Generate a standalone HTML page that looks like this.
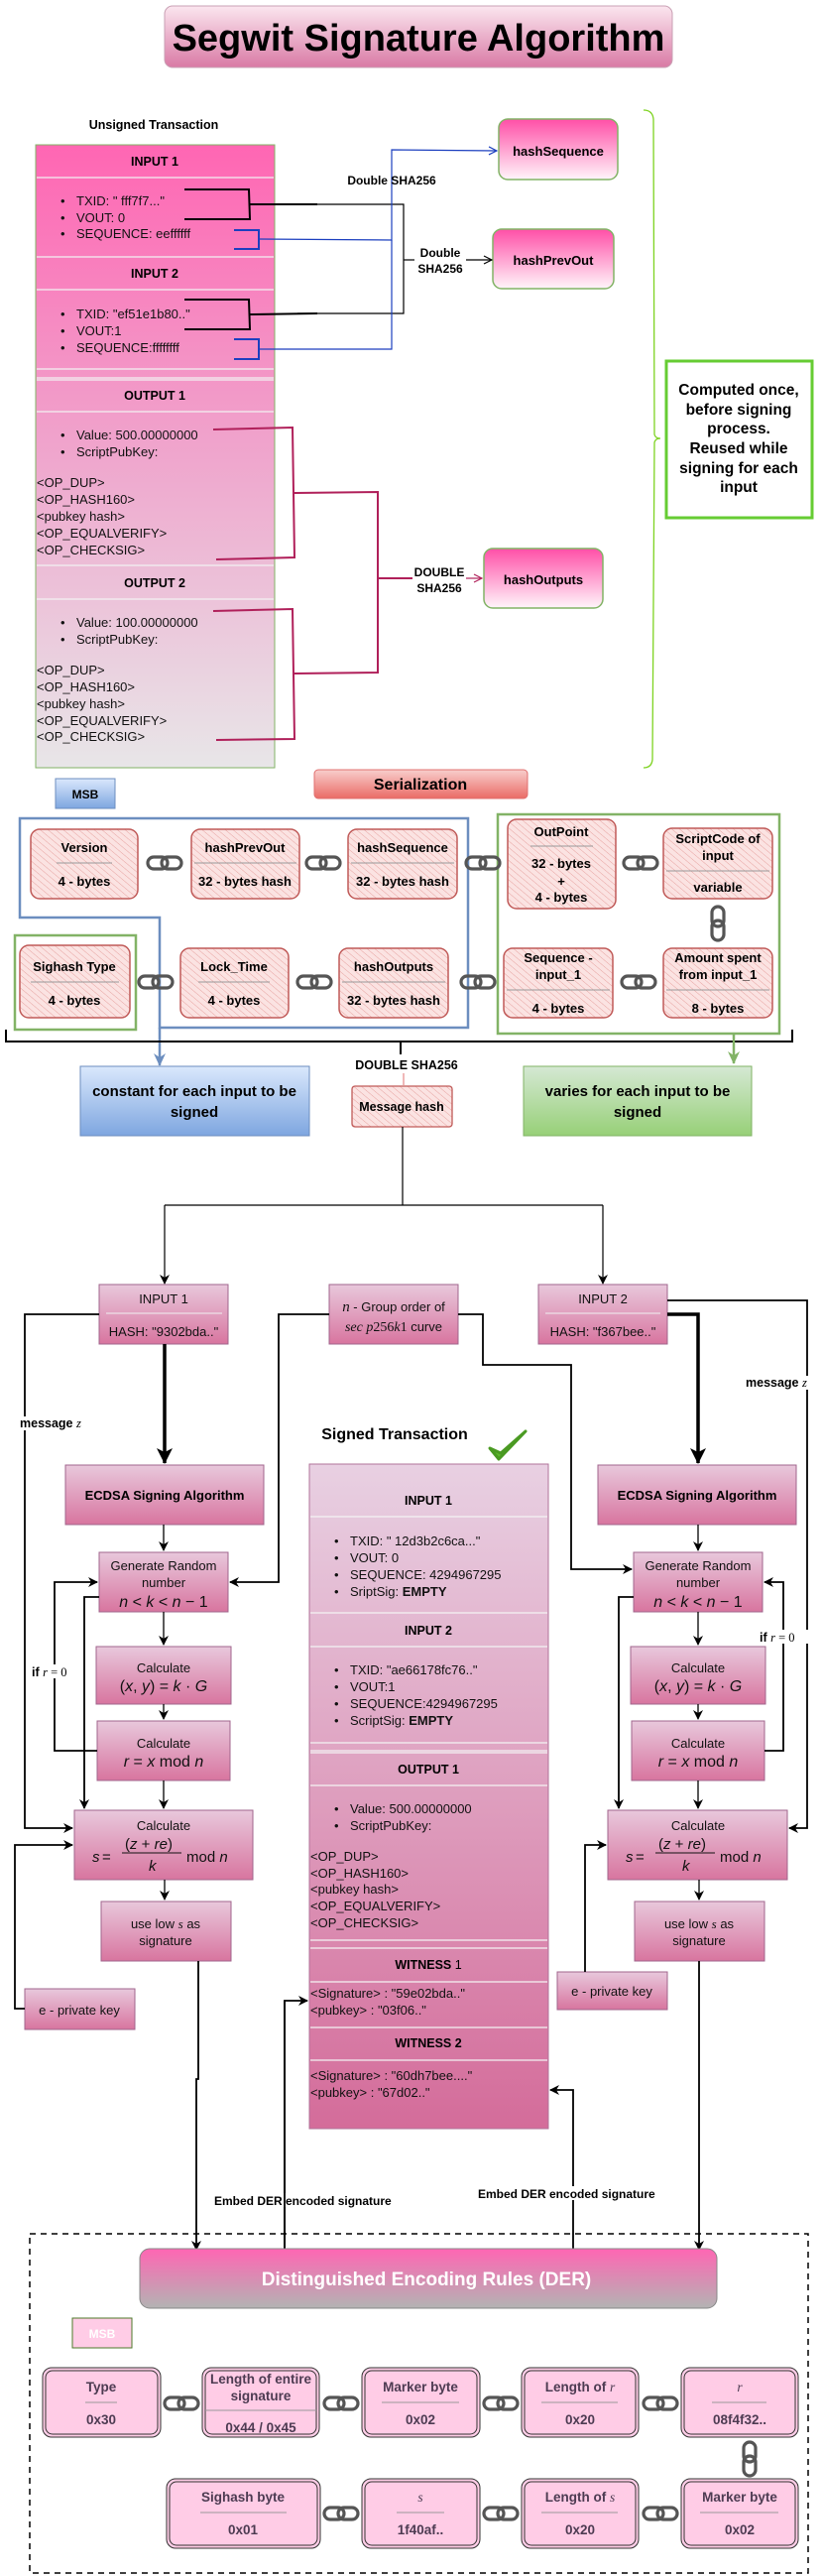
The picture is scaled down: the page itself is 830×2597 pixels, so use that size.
<!DOCTYPE html>
<html><head><meta charset="utf-8"><style>
html,body{margin:0;padding:0;background:#fff}
svg{display:block}
text{font-family:"Liberation Sans",Arial,sans-serif}
.b{font-weight:bold}
.m{font-family:"Liberation Serif",serif;font-style:italic}
</style></head><body>
<svg width="830" height="2597" viewBox="0 0 830 2597" xmlns="http://www.w3.org/2000/svg">
<defs>
<linearGradient id="gTitle" x1="0" y1="0" x2="0" y2="1"><stop offset="0" stop-color="#fbe6ef"/><stop offset="1" stop-color="#d97aa5"/></linearGradient>
<linearGradient id="gTx" x1="0" y1="0" x2="0" y2="1"><stop offset="0" stop-color="#ff66b3"/><stop offset="0.5" stop-color="#efa6cd"/><stop offset="1" stop-color="#e8e6e8"/></linearGradient>
<linearGradient id="gHash" x1="0" y1="0" x2="0" y2="1"><stop offset="0" stop-color="#ff4fa7"/><stop offset="1" stop-color="#fff5fa"/></linearGradient>
<linearGradient id="gSer" x1="0" y1="0" x2="0" y2="1"><stop offset="0" stop-color="#f8cecc"/><stop offset="1" stop-color="#ea6b66"/></linearGradient>
<linearGradient id="gMSB" x1="0" y1="0" x2="0" y2="1"><stop offset="0" stop-color="#dae8fc"/><stop offset="1" stop-color="#7ea6e0"/></linearGradient>
<linearGradient id="gBlue" x1="0" y1="0" x2="0" y2="1"><stop offset="0" stop-color="#dae8fc"/><stop offset="1" stop-color="#7ea6e0"/></linearGradient>
<linearGradient id="gGreen" x1="0" y1="0" x2="0" y2="1"><stop offset="0" stop-color="#d5e8d4"/><stop offset="1" stop-color="#97d077"/></linearGradient>
<linearGradient id="gPk" x1="0" y1="0" x2="0" y2="1"><stop offset="0" stop-color="#e8c8dc"/><stop offset="1" stop-color="#d8759f"/></linearGradient>
<linearGradient id="gSig" x1="0" y1="0" x2="0" y2="1"><stop offset="0" stop-color="#e8d0e2"/><stop offset="1" stop-color="#d46c9a"/></linearGradient>
<linearGradient id="gDer" x1="0" y1="0" x2="0" y2="1"><stop offset="0" stop-color="#ff66b3"/><stop offset="1" stop-color="#b3b3b3"/></linearGradient>
<pattern id="hatch" width="5" height="5" patternUnits="userSpaceOnUse" patternTransform="rotate(-50)"><rect width="5" height="5" fill="#fbe3e2"/><line x1="0" y1="0" x2="0" y2="5" stroke="#e7a3a1" stroke-width="1"/></pattern>
<marker id="ab" markerWidth="10" markerHeight="10" refX="9" refY="5" orient="auto" markerUnits="userSpaceOnUse"><path d="M0,0 L10,5 L0,10 L3,5 Z" fill="#000"/></marker>
<marker id="abig" markerWidth="16" markerHeight="16" refX="15" refY="8" orient="auto" markerUnits="userSpaceOnUse"><path d="M0,0 L16,8 L0,16 L4,8 Z" fill="#000"/></marker>
<marker id="aopen" markerWidth="10" markerHeight="10" refX="9" refY="5" orient="auto" markerUnits="userSpaceOnUse"><path d="M1,1 L9,5 L1,9" fill="none" stroke="#000" stroke-width="1.2"/></marker>
<marker id="aopenB" markerWidth="10" markerHeight="10" refX="9" refY="5" orient="auto" markerUnits="userSpaceOnUse"><path d="M1,1 L9,5 L1,9" fill="none" stroke="#1c3fbf" stroke-width="1.2"/></marker>
<marker id="aopenR" markerWidth="10" markerHeight="10" refX="9" refY="5" orient="auto" markerUnits="userSpaceOnUse"><path d="M1,1 L9,5 L1,9" fill="none" stroke="#b0205a" stroke-width="1.2"/></marker>
<marker id="ablue" markerWidth="14" markerHeight="14" refX="12" refY="7" orient="auto" markerUnits="userSpaceOnUse"><path d="M0,1 L13,7 L0,13 L4,7 Z" fill="#6c8ebf"/></marker>
<marker id="agreen" markerWidth="14" markerHeight="14" refX="12" refY="7" orient="auto" markerUnits="userSpaceOnUse"><path d="M0,1 L13,7 L0,13 L4,7 Z" fill="#82b366"/></marker>
<g id="chainH"><rect x="-17" y="-6" width="20" height="12" rx="6" fill="none" stroke="#555" stroke-width="3.2"/><rect x="-3" y="-6" width="20" height="12" rx="6" fill="none" stroke="#555" stroke-width="3.2"/></g>
<g id="chainV"><rect x="-6" y="-17" width="12" height="20" rx="6" fill="none" stroke="#555" stroke-width="3.2"/><rect x="-6" y="-3" width="12" height="20" rx="6" fill="none" stroke="#555" stroke-width="3.2"/></g>
</defs>

<!-- Title -->
<rect x="166" y="6" width="512" height="62" rx="8" fill="url(#gTitle)" stroke="#c9a0b4"/>
<text x="422" y="51" text-anchor="middle" class="b" font-size="38" fill="#000">Segwit Signature Algorithm</text>

<text x="155" y="130" text-anchor="middle" class="b" font-size="12.5">Unsigned Transaction</text>

<!-- Unsigned tx table -->
<rect x="36" y="146" width="241" height="628" fill="url(#gTx)" stroke="#82b366"/>
<g stroke="#f2f2f2" stroke-width="1.2">
<line x1="37" y1="179" x2="276" y2="179"/><line x1="37" y1="259" x2="276" y2="259"/>
<line x1="37" y1="292" x2="276" y2="292"/><line x1="37" y1="372" x2="276" y2="372"/>
<line x1="37" y1="381" x2="276" y2="381"/><line x1="37" y1="383" x2="276" y2="383"/>
<line x1="37" y1="415" x2="276" y2="415"/><line x1="37" y1="570" x2="276" y2="570"/><line x1="37" y1="604" x2="276" y2="604"/>
</g>
<g font-size="12.5" class="b" text-anchor="middle">
<text x="156" y="167">INPUT 1</text><text x="156" y="280">INPUT 2</text>
<text x="156" y="403">OUTPUT 1</text><text x="156" y="592">OUTPUT 2</text>
</g>
<g font-size="13" fill="#111">
<text x="61" y="207">•</text><text x="77" y="207">TXID: " fff7f7..."</text>
<text x="61" y="224">•</text><text x="77" y="224">VOUT: 0</text>
<text x="61" y="240">•</text><text x="77" y="240">SEQUENCE: eeffffff</text>
<text x="61" y="321">•</text><text x="77" y="321">TXID: "ef51e1b80.."</text>
<text x="61" y="338">•</text><text x="77" y="338">VOUT:1</text>
<text x="61" y="355">•</text><text x="77" y="355">SEQUENCE:ffffffff</text>
<text x="61" y="443">•</text><text x="77" y="443">Value: 500.00000000</text>
<text x="61" y="460">•</text><text x="77" y="460">ScriptPubKey:</text>
<text x="37" y="491">&lt;OP_DUP&gt;</text><text x="37" y="508">&lt;OP_HASH160&gt;</text><text x="37" y="525">&lt;pubkey hash&gt;</text><text x="37" y="542">&lt;OP_EQUALVERIFY&gt;</text><text x="37" y="559">&lt;OP_CHECKSIG&gt;</text>
<text x="61" y="632">•</text><text x="77" y="632">Value: 100.00000000</text>
<text x="61" y="649">•</text><text x="77" y="649">ScriptPubKey:</text>
<text x="37" y="680">&lt;OP_DUP&gt;</text><text x="37" y="697">&lt;OP_HASH160&gt;</text><text x="37" y="714">&lt;pubkey hash&gt;</text><text x="37" y="731">&lt;OP_EQUALVERIFY&gt;</text><text x="37" y="747">&lt;OP_CHECKSIG&gt;</text>
</g>

<!-- hash boxes -->
<rect x="503" y="120" width="120" height="61" rx="9" fill="url(#gHash)" stroke="#82b366" stroke-width="1.5"/>
<text x="563" y="157" text-anchor="middle" class="b" font-size="13">hashSequence</text>
<rect x="497" y="231" width="122" height="60" rx="9" fill="url(#gHash)" stroke="#82b366" stroke-width="1.5"/>
<text x="558" y="267" text-anchor="middle" class="b" font-size="13">hashPrevOut</text>
<rect x="488" y="553" width="120" height="60" rx="9" fill="url(#gHash)" stroke="#82b366" stroke-width="1.5"/>
<text x="548" y="589" text-anchor="middle" class="b" font-size="13">hashOutputs</text>

<!-- black brackets -->
<g fill="none" stroke="#000" stroke-width="2">
<path d="M186,191 L251,191 L252,221 L186,221"/><path d="M252,206 L320,206"/>
<path d="M186,302 L251,302 L252,332 L186,332"/><path d="M252,317 L320,316"/>
</g>
<g fill="none" stroke="#000" stroke-width="1.2">
<path d="M300,206 L407,206 L407,316 L300,316"/>
<path d="M407,262 L418,262"/>
<path d="M470,262 L496,262" marker-end="url(#aopen)"/>
</g>
<!-- blue brackets -->
<g fill="none" stroke="#1c3fbf" stroke-width="2">
<path d="M236,232 L261,232 L261,251 L236,251"/><path d="M236,342 L261,342 L261,362 L236,362"/>
</g>
<g fill="none" stroke="#1c3fbf" stroke-width="1.2">
<path d="M261,241 L395,242 L395,151 L501,152" marker-end="url(#aopenB)"/>
<path d="M261,352 L395,352 L395,242"/>
</g>
<!-- red brackets -->
<g fill="none" stroke="#b0205a" stroke-width="2">
<path d="M215,433 L295,431 L297,562 L218,564"/>
<path d="M215,616 L295,614 L297,745 L218,746"/>
<path d="M297,497 L381,496 L381,678 L297,679"/>
<path d="M381,583 L416,583"/>
<path d="M470,583 L486,583" stroke-width="1.2" marker-end="url(#aopenR)"/>
</g>
<g class="b" font-size="12" text-anchor="middle">
<text x="395" y="186">Double SHA256</text>
<text x="444" y="259">Double</text><text x="444" y="275">SHA256</text>
<text x="443" y="581">DOUBLE</text><text x="443" y="597">SHA256</text>
</g>

<!-- green brace -->
<path d="M649,111 Q658,111 659,120 L660,438 Q661,442 666,442 Q661,442 660,446 L658,766 Q657,774 649,774" fill="none" stroke="#7ed321" stroke-width="1.3"/>
<rect x="672" y="364" width="147" height="158" fill="#fff" stroke="#66cc33" stroke-width="3"/>
<g class="b" font-size="15.5" text-anchor="middle">
<text x="745" y="398">Computed once,</text><text x="745" y="418">before signing</text><text x="745" y="437">process.</text>
<text x="745" y="457">Reused while</text><text x="745" y="477">signing for each</text><text x="745" y="496">input</text>
</g>

<!-- Serialization -->
<rect x="317" y="776" width="215" height="29" rx="4" fill="url(#gSer)" stroke="#e07070"/>
<text x="424" y="796" text-anchor="middle" class="b" font-size="16">Serialization</text>
<rect x="56" y="785" width="60" height="30" fill="url(#gMSB)" stroke="#6c8ebf"/>
<text x="86" y="805" text-anchor="middle" class="b" font-size="12">MSB</text>

<path d="M20,825 L472,825 L472,1036 L161,1036 L161,925 L20,925 Z" fill="none" stroke="#6c8ebf" stroke-width="2.5"/>
<path d="M161,1036 L161,1074" fill="none" stroke="#6c8ebf" stroke-width="2.5" marker-end="url(#ablue)"/>
<rect x="502" y="821" width="284" height="221" fill="none" stroke="#82b366" stroke-width="2.5"/>
<rect x="15" y="943" width="122" height="95" fill="none" stroke="#82b366" stroke-width="2.5"/>

<!-- sketch boxes -->
<g stroke="#c05a58" stroke-width="1.5">
<rect x="31" y="836" width="108" height="70" rx="9" fill="url(#hatch)"/>
<rect x="193" y="836" width="109" height="70" rx="9" fill="url(#hatch)"/>
<rect x="351" y="836" width="110" height="70" rx="9" fill="url(#hatch)"/>
<rect x="512" y="826" width="109" height="90" rx="9" fill="url(#hatch)"/>
<rect x="669" y="835" width="110" height="71" rx="9" fill="url(#hatch)"/>
<rect x="20" y="953" width="111" height="73" rx="9" fill="url(#hatch)"/>
<rect x="182" y="956" width="109" height="70" rx="9" fill="url(#hatch)"/>
<rect x="342" y="956" width="110" height="70" rx="9" fill="url(#hatch)"/>
<rect x="508" y="956" width="110" height="70" rx="9" fill="url(#hatch)"/>
<rect x="669" y="956" width="110" height="70" rx="9" fill="url(#hatch)"/>
</g>
<g stroke="#999" stroke-width="1">
<line x1="57" y1="870" x2="113" y2="870"/><line x1="196" y1="870" x2="299" y2="870"/><line x1="354" y1="870" x2="458" y2="870"/>
<line x1="535" y1="853" x2="598" y2="853"/><line x1="672" y1="878" x2="776" y2="878"/>
<line x1="31" y1="990" x2="120" y2="990"/><line x1="200" y1="990" x2="272" y2="990"/><line x1="345" y1="990" x2="449" y2="990"/>
<line x1="511" y1="998" x2="615" y2="998"/><line x1="672" y1="998" x2="776" y2="998"/>
</g>
<g class="b" font-size="13" text-anchor="middle">
<text x="85" y="859">Version</text><text x="85" y="893">4 - bytes</text>
<text x="247" y="859">hashPrevOut</text><text x="247" y="893">32 - bytes hash</text>
<text x="406" y="859">hashSequence</text><text x="406" y="893">32 - bytes hash</text>
<text x="566" y="843">OutPoint</text><text x="566" y="875">32 - bytes</text><text x="566" y="893">+</text><text x="566" y="909">4 - bytes</text>
<text x="724" y="850">ScriptCode of</text><text x="724" y="867">input</text><text x="724" y="899">variable</text>
<text x="75" y="979">Sighash Type</text><text x="75" y="1013">4 - bytes</text>
<text x="236" y="979">Lock_Time</text><text x="236" y="1013">4 - bytes</text>
<text x="397" y="979">hashOutputs</text><text x="397" y="1013">32 - bytes hash</text>
<text x="563" y="970">Sequence -</text><text x="563" y="987">input_1</text><text x="563" y="1021">4 - bytes</text>
<text x="724" y="970">Amount spent</text><text x="724" y="987">from input_1</text><text x="724" y="1021">8 - bytes</text>
</g>
<use href="#chainH" x="166" y="870"/><use href="#chainH" x="326" y="870"/><use href="#chainH" x="487" y="870"/><use href="#chainH" x="646" y="870"/>
<use href="#chainH" x="157" y="990"/><use href="#chainH" x="317" y="990"/><use href="#chainH" x="482" y="990"/><use href="#chainH" x="644" y="990"/>
<use href="#chainV" x="724" y="931"/>

<!-- big bracket -->
<path d="M6,1038 L6,1050 L799,1050 L799,1038 M404,1050 L404,1063" fill="none" stroke="#000" stroke-width="2"/>
<path d="M740,1042 L740,1072" fill="none" stroke="#82b366" stroke-width="2.5" marker-end="url(#agreen)"/>
<text x="410" y="1078" text-anchor="middle" class="b" font-size="12.5">DOUBLE SHA256</text>
<path d="M407,1082 L407,1094" stroke="#e07070" fill="none" stroke-width="1"/>
<rect x="81" y="1075" width="231" height="70" fill="url(#gBlue)" stroke="#6c8ebf"/>
<text x="196" y="1105" text-anchor="middle" class="b" font-size="15">constant for each input to be</text>
<text x="196" y="1126" text-anchor="middle" class="b" font-size="15">signed</text>
<rect x="528" y="1075" width="230" height="70" fill="url(#gGreen)" stroke="#82b366"/>
<text x="643" y="1105" text-anchor="middle" class="b" font-size="15">varies for each input to be</text>
<text x="643" y="1126" text-anchor="middle" class="b" font-size="15">signed</text>
<rect x="355" y="1095" width="101" height="41" rx="3" fill="url(#hatch)" stroke="#c05a58" stroke-width="1.3"/>
<text x="405" y="1120" text-anchor="middle" class="b" font-size="12.5">Message hash</text>

<!-- tree lines -->
<path d="M406,1136 L406,1215 M166,1215 L608,1215" fill="none" stroke="#000" stroke-width="1.2"/>
<path d="M166,1215 L166,1294" fill="none" stroke="#000" stroke-width="1.2" marker-end="url(#ab)"/>
<path d="M608,1215 L608,1294" fill="none" stroke="#000" stroke-width="1.2" marker-end="url(#ab)"/>

<!-- ECDSA boxes -->
<g stroke="#a0658c" stroke-width="1">
<rect x="100" y="1295" width="130" height="60" fill="url(#gPk)"/>
<rect x="332" y="1295" width="130" height="60" fill="url(#gPk)"/>
<rect x="543" y="1295" width="130" height="60" fill="url(#gPk)"/>
<rect x="66" y="1477" width="200" height="60" fill="url(#gPk)"/>
<rect x="603" y="1477" width="200" height="60" fill="url(#gPk)"/>
<rect x="100" y="1565" width="130" height="60" fill="url(#gPk)"/>
<rect x="639" y="1565" width="130" height="60" fill="url(#gPk)"/>
<rect x="97" y="1660" width="136" height="58" fill="url(#gPk)"/>
<rect x="636" y="1660" width="136" height="58" fill="url(#gPk)"/>
<rect x="98" y="1735" width="134" height="60" fill="url(#gPk)"/>
<rect x="637" y="1735" width="134" height="60" fill="url(#gPk)"/>
<rect x="75" y="1825" width="180" height="70" fill="url(#gPk)"/>
<rect x="613" y="1825" width="181" height="70" fill="url(#gPk)"/>
<rect x="102" y="1917" width="131" height="60" fill="url(#gPk)"/>
<rect x="640" y="1917" width="131" height="60" fill="url(#gPk)"/>
<rect x="25" y="2005" width="111" height="41" fill="url(#gPk)"/>
<rect x="562" y="1988" width="111" height="38" fill="url(#gPk)"/>
</g>
<g stroke="#f0f0f0"><line x1="107" y1="1324" x2="224" y2="1324"/><line x1="550" y1="1324" x2="666" y2="1324"/></g>
<g font-size="13" text-anchor="middle" fill="#111">
<text x="165" y="1314">INPUT 1</text><text x="165" y="1347">HASH: "9302bda.."</text>
<text x="608" y="1314">INPUT 2</text><text x="608" y="1347">HASH: "f367bee.."</text>
<text x="397" y="1322"><tspan class="m" font-size="15">n</tspan> - Group order of</text>
<text x="397" y="1342"><tspan class="m" font-size="14">sec p</tspan><tspan font-family="Liberation Serif" font-size="14">256</tspan><tspan class="m" font-size="14">k</tspan><tspan font-family="Liberation Serif" font-size="14">1</tspan> curve</text>
<text x="165" y="1583">Generate Random</text><text x="165" y="1600">number</text>
<text x="704" y="1583">Generate Random</text><text x="704" y="1600">number</text>
<text x="165" y="1686">Calculate</text><text x="704" y="1686">Calculate</text>
<text x="165" y="1762">Calculate</text><text x="704" y="1762">Calculate</text>
<text x="165" y="1845">Calculate</text><text x="704" y="1845">Calculate</text>
<text x="167" y="1944">use low <tspan class="m">s</tspan> as</text><text x="167" y="1961">signature</text>
<text x="705" y="1944">use low <tspan class="m">s</tspan> as</text><text x="705" y="1961">signature</text>
<text x="80" y="2031">e - private key</text><text x="617" y="2012">e - private key</text>
</g>
<g font-family="Liberation Serif" font-size="16" text-anchor="middle" fill="#111">
<text x="165" y="1620"><tspan font-style="italic">n</tspan> &lt; <tspan font-style="italic">k</tspan> &lt; <tspan font-style="italic">n</tspan> − 1</text>
<text x="704" y="1620"><tspan font-style="italic">n</tspan> &lt; <tspan font-style="italic">k</tspan> &lt; <tspan font-style="italic">n</tspan> − 1</text>
<text x="165" y="1705">(<tspan font-style="italic">x</tspan>, <tspan font-style="italic">y</tspan>) = <tspan font-style="italic">k</tspan> · <tspan font-style="italic">G</tspan></text>
<text x="704" y="1705">(<tspan font-style="italic">x</tspan>, <tspan font-style="italic">y</tspan>) = <tspan font-style="italic">k</tspan> · <tspan font-style="italic">G</tspan></text>
<text x="165" y="1781"><tspan font-style="italic">r</tspan> = <tspan font-style="italic">x</tspan> mod <tspan font-style="italic">n</tspan></text>
<text x="704" y="1781"><tspan font-style="italic">r</tspan> = <tspan font-style="italic">x</tspan> mod <tspan font-style="italic">n</tspan></text>
</g>
<g font-family="Liberation Serif" font-size="15" fill="#111">
<text x="93" y="1877" font-style="italic">s</text><text x="103" y="1877">=</text>
<text x="126" y="1864">(<tspan font-style="italic">z</tspan> + <tspan font-style="italic">re</tspan>)</text>
<line x1="123" y1="1868" x2="183" y2="1868" stroke="#111" stroke-width="1"/>
<text x="150" y="1886" font-style="italic">k</text>
<text x="188" y="1877">mod <tspan font-style="italic">n</tspan></text>
<text x="631" y="1877" font-style="italic">s</text><text x="641" y="1877">=</text>
<text x="664" y="1864">(<tspan font-style="italic">z</tspan> + <tspan font-style="italic">re</tspan>)</text>
<line x1="661" y1="1868" x2="721" y2="1868" stroke="#111" stroke-width="1"/>
<text x="688" y="1886" font-style="italic">k</text>
<text x="726" y="1877">mod <tspan font-style="italic">n</tspan></text>
</g>
<g class="b" font-size="13" text-anchor="middle">
<text x="166" y="1512">ECDSA Signing Algorithm</text>
<text x="703" y="1512">ECDSA Signing Algorithm</text>
</g>

<!-- flow connectors -->
<g fill="none" stroke="#000" stroke-width="1.3">
<path d="M165,1537 L165,1563" marker-end="url(#ab)"/><path d="M704,1537 L704,1563" marker-end="url(#ab)"/>
<path d="M165,1625 L165,1658" marker-end="url(#ab)"/><path d="M704,1625 L704,1658" marker-end="url(#ab)"/>
<path d="M165,1718 L165,1733" marker-end="url(#ab)"/><path d="M704,1718 L704,1733" marker-end="url(#ab)"/>
<path d="M165,1795 L165,1823" marker-end="url(#ab)"/><path d="M704,1795 L704,1823" marker-end="url(#ab)"/>
<path d="M166,1895 L166,1915" marker-end="url(#ab)"/><path d="M705,1895 L705,1915" marker-end="url(#ab)"/>
<path d="M98,1765 L55,1765 L55,1595 L98,1595" stroke-width="1.8" marker-end="url(#ab)"/>
<path d="M100,1610 L85,1610 L85,1823" stroke-width="1.8" marker-end="url(#ab)"/>
<path d="M100,1325 L25,1325 L25,1843 L73,1843" stroke-width="1.8" marker-end="url(#ab)"/>
<path d="M25,2025 L15,2025 L15,1860 L73,1860" stroke-width="1.8" marker-end="url(#ab)"/>
<path d="M332,1325 L281,1325 L281,1595 L232,1595" stroke-width="1.8" marker-end="url(#ab)"/>
<path d="M462,1325 L487,1325 L487,1376 L576,1376 L576,1582 L637,1582" stroke-width="1.8" marker-end="url(#ab)"/>
<path d="M673,1311 L814,1311 L814,1843 L796,1843" stroke-width="1.8" marker-end="url(#ab)"/>
<path d="M771,1765 L790,1765 L790,1595 L771,1595" stroke-width="1.8" marker-end="url(#ab)"/>
<path d="M639,1610 L624,1610 L624,1823" stroke-width="1.8" marker-end="url(#ab)"/>
<path d="M590,1988 L590,1860 L611,1860" stroke-width="1.8" marker-end="url(#ab)"/>
<path d="M200,1977 L200,2096 L198,2096 L198,2268" stroke-width="1.8" marker-end="url(#ab)"/>
<path d="M705,1977 L705,2268" stroke-width="1.8" marker-end="url(#ab)"/>
<path d="M287,2267 L287,2017 L310,2017" stroke-width="1.8" marker-end="url(#ab)"/>
<path d="M578,2267 L578,2107 L555,2107" stroke-width="1.8" marker-end="url(#ab)"/>
<path d="M166,1355 L166,1475" stroke-width="3.5" marker-end="url(#abig)"/>
<path d="M673,1325 L704,1325 L704,1475" stroke-width="3.5" marker-end="url(#abig)"/>
</g>
<g font-size="12.5" fill="#000">
<rect x="18" y="1428" width="76" height="14" fill="#fff"/>
<text x="20" y="1439" class="b">message <tspan class="m" font-weight="normal">z</tspan></text>
<rect x="750" y="1387" width="78" height="14" fill="#fff"/>
<text x="752" y="1398" class="b">message <tspan class="m" font-weight="normal">z</tspan></text>
<rect x="30" y="1678" width="50" height="14" fill="#fff"/>
<text x="32" y="1690" class="b">if <tspan font-family="Liberation Serif" font-weight="normal"><tspan font-style="italic">r</tspan> = 0</tspan></text>
<rect x="764" y="1643" width="52" height="14" fill="#fff"/>
<text x="766" y="1655" class="b">if <tspan font-family="Liberation Serif" font-weight="normal"><tspan font-style="italic">r</tspan> = 0</tspan></text>
</g>

<!-- Signed transaction -->
<text x="398" y="1451" text-anchor="middle" class="b" font-size="16">Signed Transaction</text>
<path d="M494,1460 L503,1471 L530,1443 L505,1465 Z" fill="#5cb82a" stroke="#4a9a22" stroke-width="3" stroke-linejoin="round"/>
<rect x="312" y="1476" width="241" height="670" fill="url(#gSig)" stroke="#b0739a"/>
<g stroke="#f4f4f4" stroke-width="1.2">
<line x1="313" y1="1529" x2="552" y2="1529"/><line x1="313" y1="1626" x2="552" y2="1626"/>
<line x1="313" y1="1660" x2="552" y2="1660"/><line x1="313" y1="1757" x2="552" y2="1757"/>
<line x1="313" y1="1765" x2="552" y2="1765"/><line x1="313" y1="1767" x2="552" y2="1767"/>
<line x1="313" y1="1800" x2="552" y2="1800"/><line x1="313" y1="1956" x2="552" y2="1956"/>
<line x1="313" y1="1964" x2="552" y2="1964"/><line x1="313" y1="1998" x2="552" y2="1998"/>
<line x1="313" y1="2044" x2="552" y2="2044"/><line x1="313" y1="2077" x2="552" y2="2077"/>
</g>
<g font-size="12.5" class="b" text-anchor="middle">
<text x="432" y="1517">INPUT 1</text><text x="432" y="1648">INPUT 2</text>
<text x="432" y="1788">OUTPUT 1</text><text x="432" y="1985">WITNESS <tspan font-weight="normal">1</tspan></text>
<text x="432" y="2064">WITNESS 2</text>
</g>
<g font-size="13" fill="#111">
<text x="337" y="1558">•</text><text x="353" y="1558">TXID: " 12d3b2c6ca..."</text>
<text x="337" y="1575">•</text><text x="353" y="1575">VOUT: 0</text>
<text x="337" y="1592">•</text><text x="353" y="1592">SEQUENCE: 4294967295</text>
<text x="337" y="1609">•</text><text x="353" y="1609">SriptSig: <tspan class="b">EMPTY</tspan></text>
<text x="337" y="1688">•</text><text x="353" y="1688">TXID: "ae66178fc76.."</text>
<text x="337" y="1705">•</text><text x="353" y="1705">VOUT:1</text>
<text x="337" y="1722">•</text><text x="353" y="1722">SEQUENCE:4294967295</text>
<text x="337" y="1739">•</text><text x="353" y="1739">ScriptSig: <tspan class="b">EMPTY</tspan></text>
<text x="337" y="1828">•</text><text x="353" y="1828">Value: 500.00000000</text>
<text x="337" y="1845">•</text><text x="353" y="1845">ScriptPubKey:</text>
<text x="313" y="1876">&lt;OP_DUP&gt;</text><text x="313" y="1893">&lt;OP_HASH160&gt;</text><text x="313" y="1909">&lt;pubkey hash&gt;</text><text x="313" y="1926">&lt;OP_EQUALVERIFY&gt;</text><text x="313" y="1943">&lt;OP_CHECKSIG&gt;</text>
<text x="313" y="2014">&lt;Signature&gt; : "59e02bda.."</text>
<text x="313" y="2031">&lt;pubkey&gt; : "03f06.."</text>
<text x="313" y="2097">&lt;Signature&gt; : "60dh7bee...."</text>
<text x="313" y="2114">&lt;pubkey&gt; : "67d02.."</text>
</g>

<!-- Embed labels -->
<g class="b" font-size="12">
<rect x="214" y="2211" width="198" height="14" fill="#fff"/>
<text x="216" y="2223">Embed DER encoded signature</text>
<rect x="480" y="2204" width="198" height="14" fill="#fff"/>
<text x="482" y="2216">Embed DER encoded signature</text>
</g>

<!-- DER section -->
<rect x="30" y="2252" width="785" height="342" fill="none" stroke="#000" stroke-width="1.5" stroke-dasharray="6,5"/>
<path d="M287,2267 L287,2017" stroke="#000" stroke-width="1.8" fill="none"/>
<rect x="141" y="2267" width="582" height="60" rx="10" fill="url(#gDer)" stroke="#888"/>
<text x="430" y="2304" text-anchor="middle" class="b" font-size="19" fill="#fff">Distinguished Encoding Rules (DER)</text>
<rect x="73" y="2337" width="60" height="30" fill="#ffcce6" stroke="#4d7a2a"/>
<text x="103" y="2357" text-anchor="middle" class="b" font-size="12" fill="#fff">MSB</text>

<g fill="#ffcce6" stroke="#333" stroke-width="1">
<rect x="43" y="2387" width="119" height="70" rx="9"/><rect x="46" y="2390" width="113" height="64" rx="7"/>
<rect x="204" y="2387" width="118" height="70" rx="9"/><rect x="207" y="2390" width="112" height="64" rx="7"/>
<rect x="365" y="2387" width="119" height="70" rx="9"/><rect x="368" y="2390" width="113" height="64" rx="7"/>
<rect x="526" y="2387" width="118" height="70" rx="9"/><rect x="529" y="2390" width="112" height="64" rx="7"/>
<rect x="687" y="2387" width="118" height="70" rx="9"/><rect x="690" y="2390" width="112" height="64" rx="7"/>
<rect x="168" y="2499" width="155" height="70" rx="9"/><rect x="171" y="2502" width="149" height="64" rx="7"/>
<rect x="365" y="2499" width="119" height="70" rx="9"/><rect x="368" y="2502" width="113" height="64" rx="7"/>
<rect x="526" y="2499" width="118" height="70" rx="9"/><rect x="529" y="2502" width="112" height="64" rx="7"/>
<rect x="687" y="2499" width="118" height="70" rx="9"/><rect x="690" y="2502" width="112" height="64" rx="7"/>
</g>
<g stroke="#999" stroke-width="1">
<line x1="86" y1="2422" x2="118" y2="2422"/><line x1="207" y1="2430" x2="319" y2="2430"/>
<line x1="385" y1="2422" x2="463" y2="2422"/><line x1="546" y1="2422" x2="623" y2="2422"/><line x1="718" y1="2422" x2="773" y2="2422"/>
<line x1="202" y1="2533" x2="289" y2="2533"/><line x1="400" y1="2533" x2="448" y2="2533"/>
<line x1="546" y1="2533" x2="623" y2="2533"/><line x1="706" y1="2533" x2="785" y2="2533"/>
</g>
<g class="b" font-size="13.5" text-anchor="middle" fill="#4d3b52">
<text x="102" y="2411">Type</text><text x="102" y="2444">0x30</text>
<text x="263" y="2403">Length of entire</text><text x="263" y="2420">signature</text><text x="263" y="2452">0x44 / 0x45</text>
<text x="424" y="2411">Marker byte</text><text x="424" y="2444">0x02</text>
<text x="585" y="2411">Length of <tspan class="m" font-weight="normal">r</tspan></text><text x="585" y="2444">0x20</text>
<text x="746" y="2411" class="m" font-weight="normal">r</text><text x="746" y="2444">08f4f32..</text>
<text x="245" y="2522">Sighash byte</text><text x="245" y="2555">0x01</text>
<text x="424" y="2522" class="m" font-weight="normal">s</text><text x="424" y="2555">1f40af..</text>
<text x="585" y="2522">Length of <tspan class="m" font-weight="normal">s</tspan></text><text x="585" y="2555">0x20</text>
<text x="746" y="2522">Marker byte</text><text x="746" y="2555">0x02</text>
</g>
<use href="#chainH" x="183" y="2423"/><use href="#chainH" x="344" y="2423"/><use href="#chainH" x="505" y="2423"/><use href="#chainH" x="666" y="2423"/>
<use href="#chainH" x="344" y="2534"/><use href="#chainH" x="505" y="2534"/><use href="#chainH" x="666" y="2534"/>
<use href="#chainV" x="756" y="2479"/>
</svg>
</body></html>
